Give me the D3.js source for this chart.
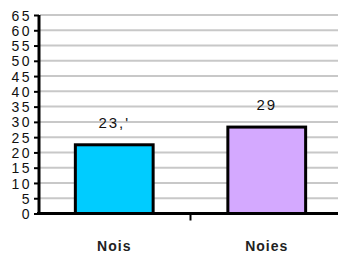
<!DOCTYPE html>
<html><head><meta charset="utf-8">
<script src="https://cdn.jsdelivr.net/npm/d3@7"></script>
<style>body{margin:0;background:#fff}svg{display:block}</style>
</head><body>
<script>
const categories = ["Nois", "Noies"];
const values = [22.5, 28.3];
const valueLabels = ["23,'", "29"];
const colors = ["#00ccff", "#d4a9ff"];
const yTicks = d3.range(0, 66, 5);

const W = 338, H = 254;
const svg = d3.select("body").append("svg").attr("width", W).attr("height", H);

const y = d3.scaleLinear().domain([0, 65]).range([213.5, 15]);
const x = d3.scaleBand().domain(categories).range([38, 343]).paddingInner(0.49).paddingOuter(0.245);
const xAxisBand = d3.scaleBand().domain(categories).range([38, 343]);

// gridlines
svg.append("g").selectAll("line").data(yTicks.filter(d => d > 0)).join("line")
  .attr("x1", 40).attr("x2", W).attr("y1", d => y(d)).attr("y2", d => y(d))
  .attr("stroke", "#c8c8c8").attr("stroke-width", 2);

// bars
svg.append("g").selectAll("rect").data(categories).join("rect")
  .attr("x", d => x(d)).attr("width", x.bandwidth())
  .attr("y", (d, i) => y(values[i])).attr("height", (d, i) => y(0) - y(values[i]))
  .attr("fill", (d, i) => colors[i]).attr("stroke", "#000").attr("stroke-width", 3);

// value labels
svg.append("g").selectAll("text").data(categories).join("text")
  .attr("x", d => x(d) + x.bandwidth() / 2)
  .attr("y", (d, i) => y(values[i]) - 17)
  .attr("text-anchor", "middle")
  .attr("font-family", "Liberation Sans, Arial, sans-serif")
  .attr("font-size", 15).attr("letter-spacing", 2).attr("fill", "#111")
  .text((d, i) => valueLabels[i]);

// y axis
const yAxis = d3.axisLeft(y).tickValues(yTicks).tickSize(5).tickPadding(2);
const gy = svg.append("g").attr("transform", "translate(39,0)").call(yAxis);
gy.select(".domain").attr("stroke-width", 3).attr("d", `M0,${y(65)}V${y(0)}`);
gy.selectAll(".tick line").attr("stroke-width", 2);
gy.selectAll(".tick text").attr("font-family", "Liberation Sans, Arial, sans-serif")
  .attr("font-size", 14).attr("letter-spacing", 2.5).attr("fill", "#111").attr("dy", "0.36em");

// x axis
const gx = svg.append("g").attr("transform", `translate(0,${y(0)})`);
gx.append("line").attr("x1", 37).attr("x2", W).attr("y1", 0).attr("y2", 0)
  .attr("stroke", "#000").attr("stroke-width", 3);
gx.append("line").attr("x1", xAxisBand("Noies")).attr("x2", xAxisBand("Noies"))
  .attr("y1", 0).attr("y2", 7).attr("stroke", "#000").attr("stroke-width", 2);
gx.selectAll("text.cat").data(categories).join("text").attr("class", "cat")
  .attr("x", d => xAxisBand(d) + xAxisBand.bandwidth() / 2)
  .attr("y", 37)
  .attr("text-anchor", "middle")
  .attr("font-family", "Liberation Sans, Arial, sans-serif")
  .attr("font-size", 14).attr("font-weight", "bold").attr("letter-spacing", 1).attr("fill", "#222")
  .text(d => d);
</script>
</body></html>
